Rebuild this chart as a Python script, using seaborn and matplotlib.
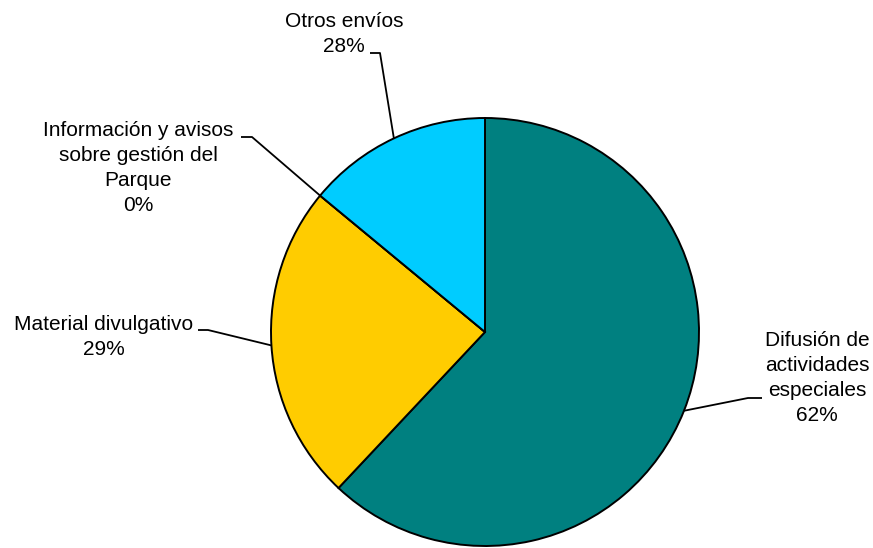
import matplotlib
matplotlib.use("Agg")
import numpy as np
import matplotlib.pyplot as plt
import seaborn as sns

# Slice sizes, labels as printed on it
categories = ["Difusión de\nactividades\nespeciales",
              "Material divulgativo",
              "Información y avisos\nsobre gestión del\nParque",
              "Otros envíos"]
sizes = [62, 24, 0, 14]
pct_labels = ["62%", "29%", "0%", "28%"]
colors = ["#008080", "#FFCC00", "#99CCFF", "#00CCFF"]

sns.set_theme(style="white")
plt.rcParams["font.family"] = ["Liberation Sans", "DejaVu Sans"]

W, H = 873, 548
fig = plt.figure(figsize=(W / 100, H / 100), dpi=100)
ax = fig.add_axes([0, 0, 1, 1])


def flip(x, y):
    # picture pixel coords (y down) -> axes data (y up)
    return x, H - y


cx, cy = flip(485, 332)
r = 214
wedges, _ = ax.pie(sizes, colors=colors, startangle=90, counterclock=False,
                   center=(cx, cy), radius=r, frame=True,
                   wedgeprops=dict(edgecolor="black", linewidth=1.4))
ax.set_xlim(0, W)
ax.set_ylim(0, H)
ax.set_aspect("equal")
ax.axis("off")

# label layout in picture pixels: text centre, elbow point, end of stub
layout = [
    dict(text=(817, 378), elbow=(748, 398), stub=(762, 398)),
    dict(text=(104, 337), elbow=(208, 330), stub=(198, 330)),
    dict(text=(138, 168), elbow=(252, 137), stub=(241, 137)),
    dict(text=(344, 34), elbow=(380, 53), stub=(370, 53)),
]

for w, name, pct, lay in zip(wedges, categories, pct_labels, layout):
    mid = np.deg2rad((w.theta1 + w.theta2) / 2)
    px = cx + r * np.cos(mid)
    py = cy + r * np.sin(mid)
    ex, ey = flip(*lay["elbow"])
    sx, sy = flip(*lay["stub"])
    ax.plot([px, ex, sx], [py, ey, sy], color="black", lw=1.3,
            solid_capstyle="butt", zorder=3)
    tx, ty = flip(*lay["text"])
    ax.text(tx, ty, f"{name}\n{pct}",
            ha="center", va="center", fontsize=15, color="black",
            linespacing=1.38)

fig.savefig("out.png", dpi=100, facecolor="white")
